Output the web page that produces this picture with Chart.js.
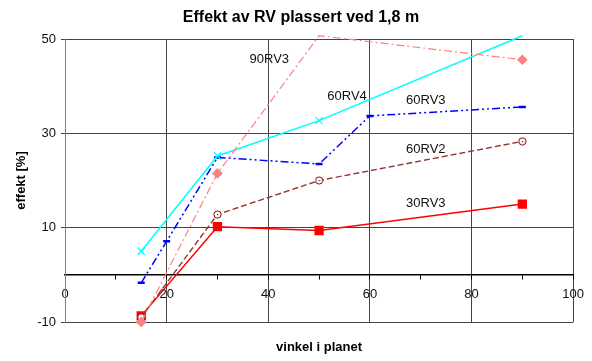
<!DOCTYPE html>
<html>
<head>
<meta charset="utf-8">
<script src="https://cdn.jsdelivr.net/npm/chart.js@4"></script>
<style>
  body { margin: 0; background: #fff; }
  #wrap { width: 592px; height: 361px; }
</style>
</head>
<body>
<div id="wrap"><canvas id="myChart"></canvas></div>
<script>
//data
var x90RV3 = [15, 30, 50, 90];
var y90RV3 = [-10, 21.5, 50.7, 45.6];
var x60RV4 = [15, 30, 50, 90];
var y60RV4 = [5, 25.2, 32.7, 50.7];
var x60RV3 = [15, 20, 30, 50, 60, 90];
var y60RV3 = [-1.7, 7.1, 24.9, 23.5, 33.7, 35.6];
var x60RV2 = [15, 30, 50, 90];
var y60RV2 = [-9, 12.8, 20, 28.3];
var x30RV3 = [15, 30, 50, 90];
var y30RV3 = [-8.7, 10.2, 9.4, 15];

//series labels written inside the plot (data units)
var labelText = ["90RV3", "60RV4", "60RV3", "60RV2", "30RV3"];
var labelX = [40.2, 55.5, 71, 71, 71];
var labelY = [45.6, 37.8, 36.9, 26.5, 15.2];

const font = "'Liberation Sans', Arial, sans-serif";

function toPoints(xs, ys) {
  return xs.map((x, i) => ({ x: x, y: ys[i] }));
}

//hide markers that fall above the top of the axis
function radius(r) {
  return (ctx) => (ctx.raw && ctx.raw.y > 50 ? 0 : r);
}

//open circle with a dot for 60RV2
var ring = document.createElement("canvas");
ring.width = 9;
ring.height = 9;
var rc = ring.getContext("2d");
rc.strokeStyle = "#800000";
rc.lineWidth = 1;
rc.fillStyle = "#fff";
rc.beginPath();
rc.arc(4.5, 4.5, 3.6, 0, Math.PI * 2);
rc.fill();
rc.stroke();
rc.fillStyle = "#800000";
rc.fillRect(4, 4, 1.2, 1.2);

const seriesLabels = {
  id: "seriesLabels",
  afterDatasetsDraw(chart) {
    const c = chart.ctx;
    const xs = chart.scales.x;
    const ys = chart.scales.y;
    const a = chart.chartArea;
    c.save();
    c.font = "13px " + font;
    c.fillStyle = "#111";
    c.textAlign = "center";
    c.textBaseline = "middle";
    labelText.forEach((t, i) => {
      c.fillText(t, xs.getPixelForValue(labelX[i]), ys.getPixelForValue(labelY[i]));
    });
    //chart title
    c.fillStyle = "#000";
    c.font = "bold 16px " + font;
    c.fillText("Effekt av RV plassert ved 1,8 m", 301, 17.5);
    //x axis title under the plot
    c.font = "bold 13px " + font;
    c.fillText("vinkel i planet", (a.left + a.right) / 2, a.bottom + 25);
    c.restore();
  },
};

const ctx = document.getElementById("myChart");
const myChart = new Chart(ctx, {
  type: "line",
  data: {
    datasets: [
      {
        label: "90RV3",
        data: toPoints(x90RV3, y90RV3),
        borderColor: "#FF8080",
        backgroundColor: "#FF8080",
        borderWidth: 1.2,
        borderDash: [8, 3, 2, 3],
        pointStyle: "rectRot",
        pointRadius: radius(4.5),
        clip: false,
      },
      {
        label: "60RV4",
        data: toPoints(x60RV4, y60RV4),
        borderColor: "#00FFFF",
        backgroundColor: "#00FFFF",
        borderWidth: 1.5,
        pointStyle: "crossRot",
        pointRadius: radius(5),
        pointBorderWidth: 1.2,
        clip: false,
      },
      {
        label: "60RV3",
        data: toPoints(x60RV3, y60RV3),
        borderColor: "#0000FF",
        backgroundColor: "#0000FF",
        borderWidth: 1.5,
        borderDash: [8, 3, 2, 3, 2, 3],
        pointStyle: "line",
        pointRadius: 3.5,
        pointBorderWidth: 2.5,
      },
      {
        label: "60RV2",
        data: toPoints(x60RV2, y60RV2),
        borderColor: "#993333",
        backgroundColor: "#fff",
        borderWidth: 1.4,
        borderDash: [6, 3],
        pointStyle: ring,
      },
      {
        label: "30RV3",
        data: toPoints(x30RV3, y30RV3),
        borderColor: "#FF0000",
        backgroundColor: "#FF0000",
        borderWidth: 1.5,
        pointStyle: "rect",
        pointRadius: 5.5,
      },
    ],
  },
  options: {
    responsive: true,
    maintainAspectRatio: false,
    animation: false,
    events: [],
    layout: {
      padding: { left: 0, right: 15, top: 39, bottom: 39 },
    },
    elements: {
      line: { tension: 0 },
    },
    scales: {
      x: {
        type: "linear",
        position: { y: 0 },
        min: 0,
        max: 100,
        ticks: {
          stepSize: 10,
          color: "#111",
          padding: 8,
          maxRotation: 0,
          font: { size: 13, family: font },
          callback: (v) => (v % 20 === 0 ? v : ""),
        },
        grid: {
          color: (c) => (c.tick && c.tick.value % 20 === 0 ? "#444" : "rgba(0,0,0,0)"),
          tickColor: "#000",
          tickLength: 4,
        },
        border: { display: true, color: "#000", width: 1.5 },
      },
      y: {
        min: -10,
        max: 50,
        ticks: {
          stepSize: 20,
          color: "#111",
          padding: 5,
          font: { size: 13, family: font },
        },
        grid: {
          color: "#444",
          tickColor: "#444",
          tickLength: 4,
        },
        border: { color: "#808080" },
        title: {
          display: true,
          text: "effekt [%]",
          color: "#000",
          font: { size: 13, weight: "bold", family: font },
          padding: { top: 14, bottom: 0 },
        },
        afterFit: (scale) => {
          scale.width = 65;
        },
      },
    },
    plugins: {
      legend: { display: false },
      tooltip: { enabled: false },
      title: { display: false },
    },
  },
  plugins: [seriesLabels],
});
</script>
</body>
</html>
